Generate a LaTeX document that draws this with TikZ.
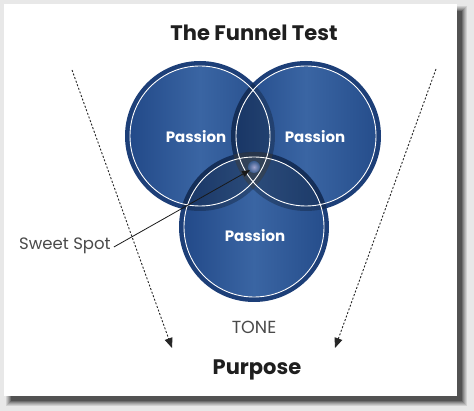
\documentclass[tikz,border=0pt]{standalone}
\usepackage{fontspec}
\setmainfont{Poppins}
\usetikzlibrary{arrows.meta}
\definecolor{ringc}{HTML}{1D3F78}
\definecolor{bodyL}{HTML}{234A89}
\definecolor{bodyM}{HTML}{3A65A3}
\definecolor{bodyR}{HTML}{264E8C}
\definecolor{txtgray}{HTML}{4A4A4A}
\tikzset{
  ring/.style={fill=ringc},
  body/.style={left color=bodyL, right color=bodyR, middle color=bodyM},
  whiteline/.style={draw=white, line width=0.9pt},
  plabel/.style={text=white, font=\fontsize{15}{15}\selectfont\bfseries},
  funnel/.style={draw=black!85, line width=0.9pt, dash pattern=on 2pt off 1.8pt, -{Triangle[length=10pt,width=8pt]}},
}
\begin{document}
\begin{tikzpicture}[x=1pt,y=-1pt]
\useasboundingbox (0,0) rectangle (474,411);
\fill[gray!18] (0,0) rectangle (474,411);
% shadow
\foreach \i/\o in {0/0.10,1/0.10,2/0.12,3/0.15,4/0.2,5/0.25}{
  \fill[black, opacity=\o] (6+\i,6+\i) rectangle (467-\i,406-\i);
}
\fill[white] (4,4) rectangle (457,396);
% circles
\coordinate (cA) at (200,136);
\coordinate (cB) at (306,136);
\coordinate (cC) at (254,227);
\foreach \c in {cA,cB,cC}{
  \fill[ring] (\c) circle (75);
  \shade[body] (\c) circle (69.5);
}
% darker overlaps
\begin{scope}
  \clip (cA) circle (75);
  \fill[black, opacity=0.25] (cB) circle (75);
  \fill[black, opacity=0.25] (cC) circle (75);
\end{scope}
\begin{scope}
  \clip (cB) circle (75);
  \fill[black, opacity=0.25] (cC) circle (75);
\end{scope}
\begin{scope}
  \clip (cA) circle (75);\clip (cB) circle (75);\clip (cC) circle (75);
  \fill[white, opacity=0.12] (cC) circle (75);
\end{scope}
% glow
\shade[inner color=white!80!blue, outer color=bodyM, opacity=0.7] (254,167) circle (6);
\foreach \c in {cA,cB,cC}{
  \draw[whiteline] (\c) circle (70);
}
% labels
\node[plabel] (pA) at (196,137) {Passion};
\node[plabel] (pB) at (315,137) {Passion};
\node[plabel] (pC) at (255,236) {Passion};
\node[font=\fontsize{21}{21}\selectfont\bfseries, text=black!88] (title) at (254,33) {The Funnel Test};
\node[font=\fontsize{21}{21}\selectfont\bfseries, text=black!88] (purpose) at (257,370) {Purpose};
\node[font=\fontsize{17.5}{17.5}\selectfont, text=txtgray] (tone) at (254,327) {TONE};
\node[font=\fontsize{16.5}{16.5}\selectfont, text=txtgray, anchor=west, inner sep=0pt] (sweet) at (19,246) {Sweet Spot};
% sweet spot arrow
\coordinate (sspot) at (250,170);
\draw[black!90, line width=0.8pt, -{Triangle[length=8pt,width=6pt]}] (sweet.east) ++(3,1) -- (sspot);
% funnel arrows
\coordinate (lt) at (72,70);
\coordinate (lb) at (172,348);
\coordinate (rt) at (436,69);
\coordinate (rb) at (335,348);
\draw[funnel] (lt) -- (lb);
\draw[funnel] (rt) -- (rb);
\end{tikzpicture}
\end{document}
